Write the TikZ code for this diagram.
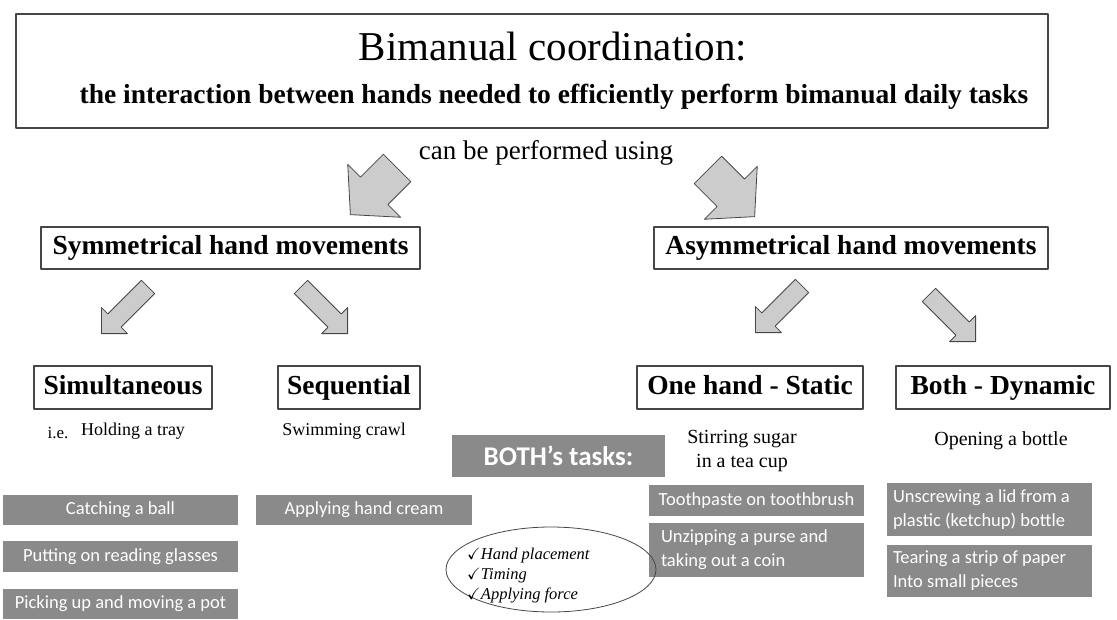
\documentclass[tikz,border=0pt]{standalone}
\usepackage{amssymb}
\usepackage{fontspec}
\setmainfont{Liberation Serif}
\newfontfamily\calibrifont{Carlito}
\usetikzlibrary{shapes.arrows,shapes.geometric}
\definecolor{taskgray}{RGB}{138,138,138}
\definecolor{arrowgray}{RGB}{204,204,204}
\definecolor{edgegray}{RGB}{70,70,70}
\newcommand{\fsz}[2]{\fontsize{#1}{#2}\selectfont}

\begin{document}
\begin{tikzpicture}[line cap=round,line join=round,x=1pt,y=-1pt,
  headbox/.style={draw=edgegray,line width=1.2pt,inner sep=0pt,text height=19pt,text depth=6pt,font=\bfseries\fsz{27.5}{30}},
  taskbox/.style={fill=taskgray,text=white,inner sep=0pt,text height=13pt,text depth=4pt,font=\calibrifont\fsz{18.5}{24}},
  taskpara/.style={taskbox,text height=,text depth=,align=flush left},
  bigarrow/.style={single arrow,draw=edgegray,fill=arrowgray,line width=0.8pt,inner xsep=0pt,inner ysep=19pt,single arrow tip angle=96,single arrow head extend=18pt,minimum height=66pt,anchor=tip},
  smallarrow/.style={bigarrow,inner ysep=9pt,single arrow tip angle=90,single arrow head extend=9pt}]
\useasboundingbox (0,0) rectangle (1117,619);
\node[draw=edgegray,line width=1.2pt,minimum width=1032pt,minimum height=114pt] (title) at (532,71) {};
\node[font=\fsz{41}{44}] (titletext) at (553,47) {Bimanual coordination:};
\node[font=\bfseries\fsz{27.5}{30}] (subtitle) at (554,97) {the interaction between hands needed to efficiently perform bimanual daily tasks};
\node[font=\fsz{27}{30}] (using) at (546,153) {can be performed using};
\node[bigarrow,rotate=-135] (tosym) at (350,215) {};
\node[bigarrow,rotate=-45] (toasym) at (755,217) {};
\node[headbox,minimum width=379pt,minimum height=42pt] (sym) at (230.5,248) {Symmetrical hand movements};
\node[headbox,minimum width=394pt,minimum height=42pt] (asym) at (851,248) {Asymmetrical hand movements};
\node[smallarrow,rotate=-135] (tosimul) at (101,334) {};
\node[smallarrow,rotate=-45] (toseq) at (348,334) {};
\node[smallarrow,rotate=-135] (tostatic) at (755,333) {};
\node[smallarrow,rotate=-45] (todynamic) at (976,342) {};
\node[headbox,minimum width=178pt,minimum height=43pt] (simul) at (123,387.5) {Simultaneous};
\node[headbox,minimum width=142pt,minimum height=43pt] (seq) at (349,387.5) {Sequential};
\node[headbox,minimum width=226pt,minimum height=43pt] (static) at (750,387.5) {One hand - Static};
\node[headbox,minimum width=214pt,minimum height=43pt] (dynamic) at (1003,387.5) {Both - Dynamic};
\node[font=\fsz{17}{20}] (ie) at (58,433) {i.e.};
\node[font=\fsz{18}{21}] (tray) at (133,431) {Holding a tray};
\node[font=\fsz{18}{21}] (crawl) at (344,431) {Swimming crawl};
\node[font=\fsz{20}{24},align=center] (sugar) at (742,451) {Stirring sugar\\in a tea cup};
\node[font=\fsz{20}{24}] (bottle) at (1001,441) {Opening a bottle};
\node[fill=taskgray,text=white,inner sep=0pt,minimum width=213pt,minimum height=42pt,font=\calibrifont\bfseries\fsz{27}{30}] (both) at (558.5,456) {BOTH’s tasks:};
\node[taskbox,minimum width=235pt,minimum height=30pt] (ball) at (120.5,510) {Catching a ball};
\node[taskbox,minimum width=235pt,minimum height=31pt] (glasses) at (120.5,556.5) {Putting on reading glasses};
\node[taskbox,minimum width=235pt,minimum height=30pt] (pot) at (120.5,604) {Picking up and moving a pot};
\node[taskbox,minimum width=216pt,minimum height=30pt] (cream) at (364,510) {Applying hand cream};
\node[taskbox,minimum width=215pt,minimum height=31pt] (paste) at (756.5,500.5) {Toothpaste on toothbrush};
\node[taskpara,text width=191pt,inner xsep=12pt,minimum height=54pt] (purse) at (756.5,550) {Unzipping a purse and\\taking out a coin};
\node[taskpara,text width=193pt,inner xsep=6pt,minimum height=53pt] (lid) at (989.5,509.5) {Unscrewing a lid from a\\plastic (ketchup) bottle};
\node[taskpara,text width=193pt,inner xsep=6pt,minimum height=52pt] (paper) at (989.5,571) {Tearing a strip of paper\\Into small pieces};
\node[ellipse,draw=edgegray,line width=0.8pt,minimum width=210pt,minimum height=85pt] (skills) at (551,569.5) {};
\node[anchor=west,align=left,inner sep=0pt,font=\itshape\fsz{16.5}{20}] (skilltext) at (467,576) {$\checkmark$Hand placement\\$\checkmark$Timing\\$\checkmark$Applying force};
\end{tikzpicture}
\end{document}
